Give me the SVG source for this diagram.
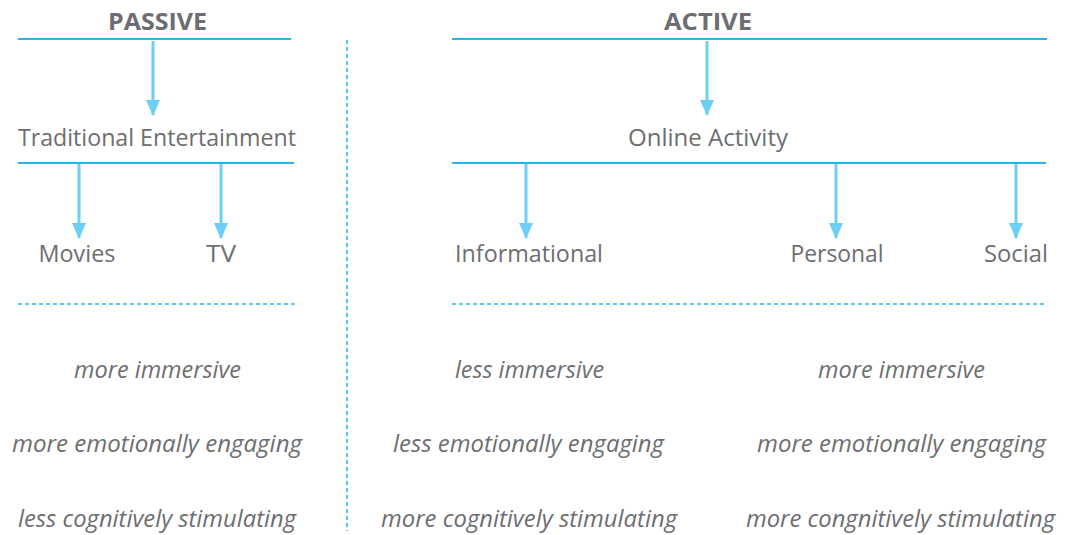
<svg xmlns="http://www.w3.org/2000/svg" width="1073" height="535" viewBox="0 0 1073 535">
<style>
text{font-family:"Open Sans","Noto Sans","Liberation Sans",sans-serif;fill:#6d6e71;text-anchor:middle}
.h{font-weight:bold;font-size:24px}
.n{font-size:24px}
.i{font-style:italic;font-size:23px}
.rule{stroke:#29b5e8;stroke-width:2;fill:none}
.dash{stroke:#29b5e8;stroke-width:1.5;stroke-dasharray:4 3;fill:none}
.arr{stroke:#6dcff6;stroke-width:3;fill:none;marker-end:url(#ah)}
</style>
<defs>
<marker id="ah" markerUnits="userSpaceOnUse" markerWidth="16" markerHeight="20" refX="15" refY="7" orient="auto" viewBox="0 0 16 14">
<path d="M0,0 L16,7 L0,14 Z" fill="#6dcff6"/>
</marker>
</defs>
<rect width="1073" height="535" fill="#fff"/>
<g id="connectors">
<line class="rule" x1="18" y1="39" x2="291" y2="39"/>
<line class="rule" x1="18" y1="163" x2="294" y2="163"/>
<line class="rule" x1="452" y1="39" x2="1047" y2="39"/>
<line class="rule" x1="452" y1="163" x2="1046" y2="163"/>
<line class="dash" x1="18" y1="304" x2="298" y2="304"/>
<line class="dash" x1="452" y1="304" x2="1046" y2="304"/>
<line class="dash" x1="347" y1="40" x2="347" y2="531"/>
<line class="arr" x1="153" y1="41" x2="153" y2="115"/>
<line class="arr" x1="79" y1="164" x2="79" y2="238"/>
<line class="arr" x1="221" y1="164" x2="221" y2="238"/>
<line class="arr" x1="707" y1="41" x2="707" y2="115"/>
<line class="arr" x1="526" y1="164" x2="526" y2="238"/>
<line class="arr" x1="836" y1="164" x2="836" y2="238"/>
<line class="arr" x1="1016" y1="164" x2="1016" y2="238"/>
</g>
<g id="passive"><text class="h" x="157.5" y="30" textLength="99" lengthAdjust="spacingAndGlyphs">PASSIVE</text></g>
<g id="active"><text class="h" x="708" y="30" textLength="88" lengthAdjust="spacingAndGlyphs">ACTIVE</text></g>
<g id="traditional"><text class="n" x="157" y="146" textLength="278" lengthAdjust="spacingAndGlyphs">Traditional Entertainment</text></g>
<g id="online"><text class="n" x="708" y="146" textLength="160" lengthAdjust="spacingAndGlyphs">Online Activity</text></g>
<g id="movies"><text class="n" x="77" y="262" textLength="77" lengthAdjust="spacingAndGlyphs">Movies</text></g>
<g id="tv"><text class="n" x="221" y="262" textLength="30" lengthAdjust="spacingAndGlyphs">TV</text></g>
<g id="informational"><text class="n" x="529" y="262" textLength="148" lengthAdjust="spacingAndGlyphs">Informational</text></g>
<g id="personal"><text class="n" x="837" y="262" textLength="93" lengthAdjust="spacingAndGlyphs">Personal</text></g>
<g id="social"><text class="n" x="1016" y="262" textLength="64" lengthAdjust="spacingAndGlyphs">Social</text></g>
<g id="passive-traits">
<text class="i" x="157.5" y="378" textLength="167" lengthAdjust="spacingAndGlyphs">more immersive</text>
<text class="i" x="157" y="452" textLength="290" lengthAdjust="spacingAndGlyphs">more emotionally engaging</text>
<text class="i" x="157" y="527" textLength="278" lengthAdjust="spacingAndGlyphs">less cognitively stimulating</text>
</g>
<g id="informational-traits">
<text class="i" x="529.5" y="378" textLength="149" lengthAdjust="spacingAndGlyphs">less immersive</text>
<text class="i" x="528.5" y="452" textLength="271" lengthAdjust="spacingAndGlyphs">less emotionally engaging</text>
<text class="i" x="529" y="527" textLength="296" lengthAdjust="spacingAndGlyphs">more cognitively stimulating</text>
</g>
<g id="social-traits">
<text class="i" x="901.5" y="378" textLength="167" lengthAdjust="spacingAndGlyphs">more immersive</text>
<text class="i" x="901.5" y="452" textLength="289" lengthAdjust="spacingAndGlyphs">more emotionally engaging</text>
<text class="i" x="900.5" y="527" textLength="309" lengthAdjust="spacingAndGlyphs">more congnitively stimulating</text>
</g>
</svg>
